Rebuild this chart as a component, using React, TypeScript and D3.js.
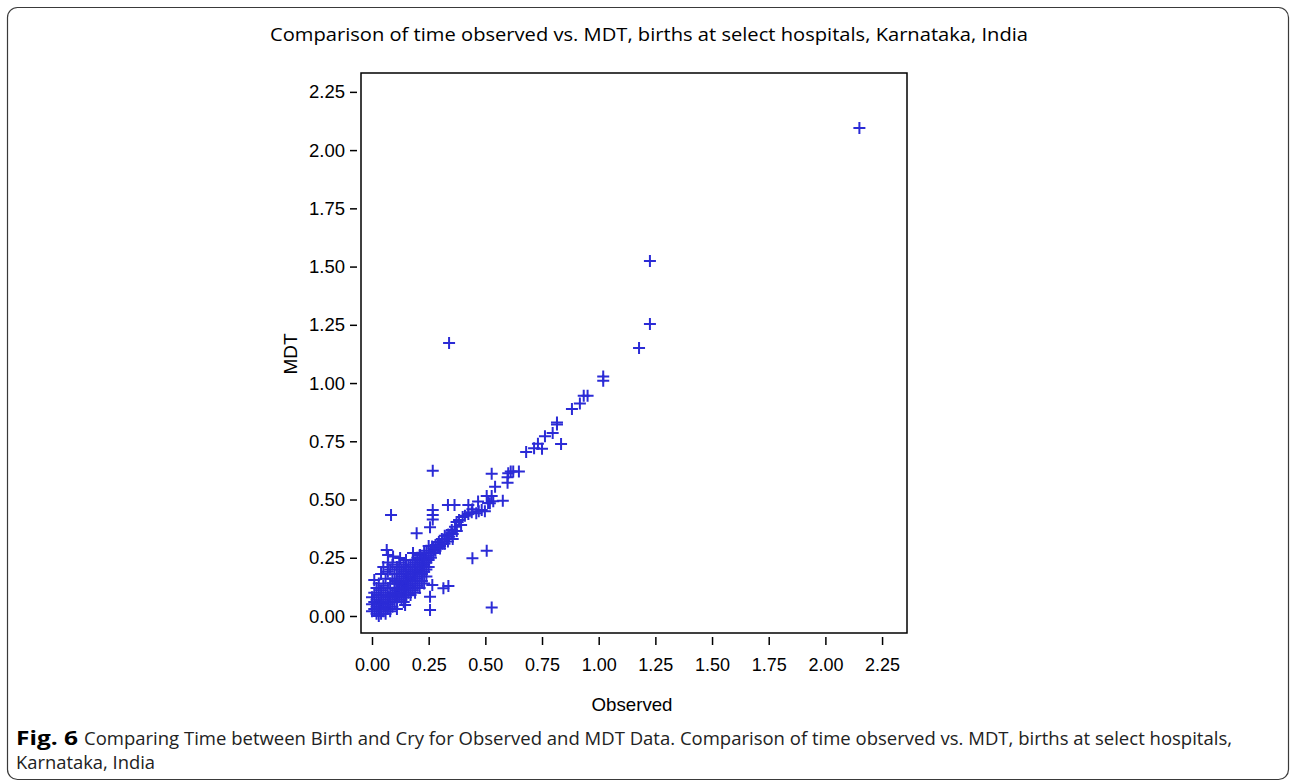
import React, { useRef, useEffect } from 'react'
import * as d3 from 'd3'

// tick values shared by both axes
const xTicks = [0, 0.25, 0.5, 0.75, 1, 1.25, 1.5, 1.75, 2, 2.25]
const yTicks = [0, 0.25, 0.5, 0.75, 1, 1.25, 1.5, 1.75, 2, 2.25]

const title = 'Comparison of time observed vs. MDT, births at select hospitals, Karnataka, India'
const xLabel = 'Observed'
const yLabel = 'MDT'
const captionBold = 'Fig. 6'
const captionLine1 =
  'Comparing Time between Birth and Cry for Observed and MDT Data. Comparison of time observed vs. MDT, births at select hospitals,'
const captionLine2 = 'Karnataka, India'

// outliers far from the main cloud
const outliers: [number, number][] = [
  [2.15, 2.095], [1.226, 1.524], [1.226, 1.254], [1.178, 1.151], [0.34, 1.172],
]

// upper part of the diagonal (observed > 0.3)
const upperDiag: [number, number][] = [
  [1.02, 1.028], [1.02, 1.01], [0.951, 0.946], [0.934, 0.946], [0.917, 0.912], [0.882, 0.889],
  [0.816, 0.831], [0.816, 0.822], [0.797, 0.786], [0.763, 0.772], [0.834, 0.738], [0.732, 0.739],
  [0.715, 0.72], [0.75, 0.718], [0.68, 0.704],
  [0.612, 0.62], [0.623, 0.62], [0.648, 0.62], [0.601, 0.613], [0.598, 0.596], [0.598, 0.572],
  [0.528, 0.611], [0.543, 0.555], [0.506, 0.515], [0.528, 0.515], [0.535, 0.493], [0.577, 0.495],
  [0.52, 0.484], [0.512, 0.485], [0.484, 0.455], [0.498, 0.45], [0.468, 0.491], [0.425, 0.477],
  [0.364, 0.477], [0.335, 0.477], [0.443, 0.458], [0.471, 0.45], [0.46, 0.441], [0.425, 0.438],
  [0.44, 0.445], [0.41, 0.43], [0.4, 0.425], [0.384, 0.412], [0.393, 0.391], [0.373, 0.404],
  [0.366, 0.383], [0.374, 0.365], [0.356, 0.352], [0.352, 0.369], [0.337, 0.35], [0.321, 0.345],
  [0.308, 0.33], [0.335, 0.32], [0.356, 0.331], [0.295, 0.318], [0.28, 0.305], [0.265, 0.298],
  [0.31, 0.31], [0.29, 0.295], [0.275, 0.285], [0.3, 0.3],
]

// points well off the diagonal
const offDiag: [number, number][] = [
  [0.268, 0.624], [0.268, 0.455], [0.268, 0.434], [0.268, 0.414], [0.084, 0.434], [0.256, 0.381],
  [0.197, 0.355], [0.506, 0.28], [0.443, 0.248], [0.528, 0.036], [0.266, 0.133], [0.315, 0.119],
  [0.337, 0.129], [0.256, 0.083], [0.256, 0.026], [0.146, 0.047],
  [0.065, 0.283], [0.071, 0.262], [0.093, 0.255], [0.124, 0.249], [0.181, 0.27], [0.212, 0.262],
]

// dense cloud near the origin
const cluster: [number, number][] = [
  [0.1, 0.1], [0.1, 0.12], [0.11, 0.11], [0.11, 0.09], [0.12, 0.12], [0.12, 0.14], [0.13, 0.12],
  [0.13, 0.14], [0.14, 0.13], [0.14, 0.15], [0.15, 0.14], [0.15, 0.16], [0.16, 0.15], [0.16, 0.17],
  [0.17, 0.16], [0.17, 0.18], [0.18, 0.17], [0.18, 0.19], [0.19, 0.18], [0.19, 0.2], [0.2, 0.19],
  [0.2, 0.21], [0.21, 0.2], [0.21, 0.22], [0.22, 0.21], [0.22, 0.23], [0.23, 0.22], [0.23, 0.24],
  [0.24, 0.23], [0.24, 0.25], [0.25, 0.24], [0.25, 0.26], [0.26, 0.25], [0.26, 0.27], [0.27, 0.27],
  [0.27, 0.29], [0.28, 0.28], [0.29, 0.3], [0.3, 0.29], [0.31, 0.32], [0.32, 0.31], [0.33, 0.33],
  [0.34, 0.34], [0.35, 0.36],
  [0, 0.02], [0, 0.05], [0, 0.08], [0.01, 0.03], [0.01, 0.06], [0.01, 0.155], [0.01, 0.1],
  [0.02, 0.01], [0.02, 0.04], [0.02, 0.07], [0.02, 0.12], [0.03, 0], [0.03, 0.03], [0.03, 0.05],
  [0.03, 0.09], [0.03, 0.14], [0.04, 0.01], [0.04, 0.04], [0.04, 0.07], [0.04, 0.11], [0.04, 0.18],
  [0.05, 0.02], [0.05, 0.05], [0.05, 0.08], [0.05, 0.13], [0.05, 0.21], [0.06, 0.01], [0.06, 0.04],
  [0.06, 0.06], [0.06, 0.1], [0.06, 0.16], [0.07, 0.03], [0.07, 0.05], [0.07, 0.08], [0.07, 0.12],
  [0.07, 0.19], [0.07, 0.23], [0.08, 0.02], [0.08, 0.06], [0.08, 0.09], [0.08, 0.14], [0.08, 0.2],
  [0.09, 0.04], [0.09, 0.07], [0.09, 0.1], [0.09, 0.16], [0.09, 0.22], [0.1, 0.06], [0.1, 0.08],
  [0.1, 0.14], [0.1, 0.18],
  [0.11, 0.15], [0.11, 0.21], [0.12, 0.18], [0.12, 0.23], [0.13, 0.17], [0.13, 0.2], [0.14, 0.19],
  [0.14, 0.22], [0.15, 0.2], [0.15, 0.24], [0.16, 0.21], [0.17, 0.22], [0.18, 0.24], [0.19, 0.23],
  [0.2, 0.25], [0.21, 0.26], [0.22, 0.25], [0.23, 0.27], [0.24, 0.28], [0.25, 0.3],
  [0.11, 0.06], [0.12, 0.08], [0.12, 0.1], [0.13, 0.07], [0.13, 0.1], [0.14, 0.09], [0.14, 0.11],
  [0.15, 0.08], [0.15, 0.12], [0.16, 0.1], [0.16, 0.13], [0.17, 0.12], [0.17, 0.09], [0.18, 0.14],
  [0.18, 0.11], [0.19, 0.15], [0.2, 0.13], [0.2, 0.16], [0.21, 0.17], [0.22, 0.15], [0.22, 0.18],
  [0.23, 0.19], [0.24, 0.2], [0.25, 0.21], [0.19, 0.1], [0.21, 0.12], [0.23, 0.14], [0.24, 0.17],
  [0.11, 0.03], [0.14, 0.06],
]

const Chart = () => {
  const svgRef = useRef<SVGSVGElement>(null)

  const width = 1290
  const height = 782
  const frame = { left: 361, right: 907, top: 73, bottom: 633 }
  const markColor = '#2b2bd6'
  const axisFont = "'Liberation Sans', Arial, sans-serif"
  const textFont = "'Open Sans', 'Noto Sans', sans-serif"

  const x = d3.scaleLinear().domain([-0.0485, 2.36]).range([frame.left, frame.right])
  const y = d3.scaleLinear().domain([-0.073, 2.331]).range([frame.bottom, frame.top])
  const fmt = d3.format('.2f')

  useEffect(() => {
    const svg = d3.select(svgRef.current)
    svg.selectAll('*').remove()
    svg.attr('viewBox', [0, 0, width, height].join(' '))

    // outer rounded panel
    svg.append('rect')
      .attr('x', 7.5).attr('y', 7.5)
      .attr('width', 1281).attr('height', 772)
      .attr('rx', 10)
      .attr('fill', 'white')
      .attr('stroke', '#3a3a3a')
      .attr('stroke-width', 1.2)

    svg.append('text')
      .attr('x', 649).attr('y', 41)
      .attr('text-anchor', 'middle')
      .attr('font-family', textFont)
      .attr('font-size', 19)
      .attr('textLength', 758)
      .attr('lengthAdjust', 'spacingAndGlyphs')
      .text(title)

    // plot frame
    svg.append('rect')
      .attr('x', frame.left).attr('y', frame.top)
      .attr('width', frame.right - frame.left).attr('height', frame.bottom - frame.top)
      .attr('fill', 'none')
      .attr('stroke', 'black')
      .attr('stroke-width', 1.5)

    // x axis, offset a little below the frame
    const xAxis = d3.axisBottom(x).tickValues(xTicks).tickFormat(d => fmt(d as number)).tickSize(8).tickPadding(13)
    svg.append('g')
      .attr('transform', `translate(0,${frame.bottom + 4})`)
      .call(xAxis)
      .call(g => g.select('.domain').remove())
      .call(g => g.selectAll('line').attr('stroke', 'black').attr('stroke-width', 1.5))
      .call(g => g.selectAll('text')
        .attr('font-family', axisFont)
        .attr('font-size', 19)
        .attr('fill', 'black')
        .attr('textLength', 35)
        .attr('lengthAdjust', 'spacingAndGlyphs'))

    const yAxis = d3.axisLeft(y).tickValues(yTicks).tickFormat(d => fmt(d as number)).tickSize(7).tickPadding(5)
    svg.append('g')
      .attr('transform', `translate(${frame.left - 4},0)`)
      .call(yAxis)
      .call(g => g.select('.domain').remove())
      .call(g => g.selectAll('line').attr('stroke', 'black').attr('stroke-width', 1.5))
      .call(g => g.selectAll('text')
        .attr('font-family', axisFont)
        .attr('font-size', 19)
        .attr('fill', 'black')
        .attr('textLength', 36)
        .attr('lengthAdjust', 'spacingAndGlyphs'))

    svg.append('text')
      .attr('x', 632).attr('y', 711)
      .attr('text-anchor', 'middle')
      .attr('font-family', axisFont)
      .attr('font-size', 19)
      .attr('textLength', 81)
      .attr('lengthAdjust', 'spacingAndGlyphs')
      .text(xLabel)

    svg.append('text')
      .attr('transform', 'translate(297,354) rotate(-90)')
      .attr('text-anchor', 'middle')
      .attr('font-family', axisFont)
      .attr('font-size', 19)
      .text(yLabel)

    // plus markers
    const all = [...outliers, ...upperDiag, ...offDiag, ...cluster]
    svg.append('g')
      .selectAll('path')
      .data(all)
      .join('path')
      .attr('transform', d => `translate(${x(d[0])},${y(d[1])})`)
      .attr('d', 'M-6,0H6M0,-6V6')
      .attr('stroke', markColor)
      .attr('stroke-width', 2)
      .attr('fill', 'none')

    // caption
    svg.append('text')
      .attr('x', 16).attr('y', 745)
      .attr('font-family', textFont)
      .attr('font-weight', 'bold')
      .attr('font-size', 19)
      .attr('textLength', 62)
      .attr('lengthAdjust', 'spacingAndGlyphs')
      .text(captionBold)
    svg.append('text')
      .attr('x', 84).attr('y', 745)
      .attr('font-family', textFont)
      .attr('font-size', 19)
      .attr('fill', '#222')
      .attr('textLength', 1148)
      .attr('lengthAdjust', 'spacingAndGlyphs')
      .text(captionLine1)
    svg.append('text')
      .attr('x', 16).attr('y', 769)
      .attr('font-family', textFont)
      .attr('font-size', 19)
      .attr('fill', '#222')
      .attr('textLength', 139)
      .attr('lengthAdjust', 'spacingAndGlyphs')
      .text(captionLine2)
  }, [])

  return (
    <svg
      ref={svgRef}
      width={width}
      height={height}
      style={{ position: 'absolute', left: 0, top: 0, display: 'block' }}
    />
  )
}

export default function App() {
  return <Chart />
}
